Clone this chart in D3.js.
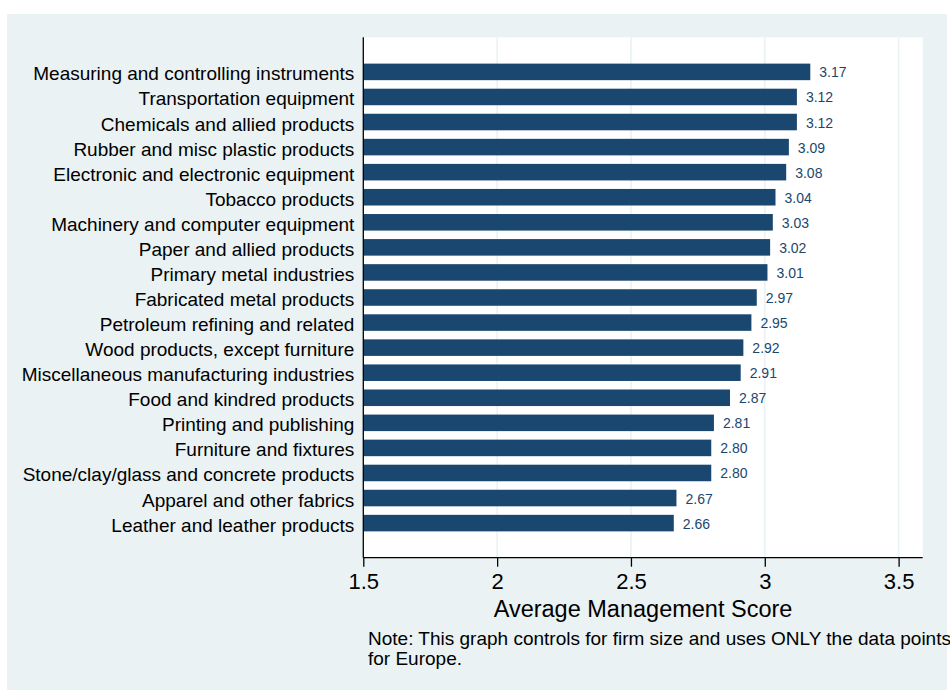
<!DOCTYPE html>
<html>
<head>
<meta charset="utf-8">
<script src="https://cdn.jsdelivr.net/npm/d3@7"></script>
<style>
  body { margin: 0; background: #fff; }
  svg { display: block; font-family: "Liberation Sans", Arial, Helvetica, sans-serif; }
</style>
</head>
<body>
<script>
var width = 950,
    height = 690;

// industries, top to bottom
var industries = [
  "Measuring and controlling instruments",
  "Transportation equipment",
  "Chemicals and allied products",
  "Rubber and misc plastic products",
  "Electronic and electronic equipment",
  "Tobacco products",
  "Machinery and computer equipment",
  "Paper and allied products",
  "Primary metal industries",
  "Fabricated metal products",
  "Petroleum refining and related",
  "Wood products, except furniture",
  "Miscellaneous manufacturing industries",
  "Food and kindred products",
  "Printing and publishing",
  "Furniture and fixtures",
  "Stone/clay/glass and concrete products",
  "Apparel and other fabrics",
  "Leather and leather products"
];

var scores = [3.17, 3.12, 3.12, 3.09, 3.08, 3.04, 3.03, 3.02, 3.01, 2.97,
              2.95, 2.92, 2.91, 2.87, 2.81, 2.80, 2.80, 2.67, 2.66];

var xTicks = [1.5, 2, 2.5, 3, 3.5];
var xTitle = "Average Management Score";
var noteLines = [
  "Note: This graph controls for firm size and uses ONLY the data points",
  "for Europe."
];

var plot = {left: 363.3, right: 922.7, top: 37.3, bottom: 557.7};
var bg = "#eaf2f3",
    barColor = "#1a476f";

var x = d3.scaleLinear()
    .domain([1.5, 3.59])
    .range([plot.left, plot.right]);

var y = d3.scaleBand()
    .domain(industries)
    .range([plot.top, plot.bottom])
    .paddingInner(0.34)
    .paddingOuter(1.05);

var svg = d3.select("body").append("svg")
    .attr("width", width)
    .attr("height", height);

// outer panel
svg.append("rect")
    .attr("x", 7).attr("y", 14)
    .attr("width", 940).attr("height", height - 14)
    .attr("fill", bg);

// plot region
svg.append("rect")
    .attr("x", plot.left).attr("y", plot.top)
    .attr("width", plot.right - plot.left).attr("height", plot.bottom - plot.top)
    .attr("fill", "#fff");

// gridlines
svg.append("g")
  .selectAll("line")
  .data(xTicks.slice(1))
  .join("line")
    .attr("x1", d => x(d)).attr("x2", d => x(d))
    .attr("y1", plot.top).attr("y2", plot.bottom)
    .attr("stroke", bg)
    .attr("stroke-width", 1.6);

// bars
svg.append("g")
  .selectAll("rect")
  .data(scores)
  .join("rect")
    .attr("x", plot.left)
    .attr("y", (d, i) => y(industries[i]))
    .attr("width", d => x(d) - plot.left)
    .attr("height", y.bandwidth())
    .attr("fill", barColor);

// value labels
svg.append("g")
  .selectAll("text")
  .data(scores)
  .join("text")
    .attr("x", d => x(d) + 9)
    .attr("y", (d, i) => y(industries[i]) + y.bandwidth() / 2 + 5.5)
    .attr("font-size", 14)
    .attr("fill", barColor)
    .text(d => d3.format(".2f")(d));

// y axis: category labels, no ticks
var yAxis = d3.axisLeft(y).tickSize(0).tickPadding(9);
var gy = svg.append("g")
    .attr("transform", "translate(" + plot.left + ",0)")
    .call(yAxis);
gy.select(".domain").attr("stroke", "#000").attr("stroke-width", 1.3)
    .attr("d", "M0," + plot.top + "V" + plot.bottom);
gy.selectAll("text")
    .attr("font-size", 19)
    .attr("fill", "#000")
    .attr("dy", null)
    .attr("y", 8.5)
    .attr("font-family", null);

// x axis
var xAxis = d3.axisBottom(x).tickValues(xTicks).tickSize(9).tickPadding(7)
    .tickFormat(d3.format(""));
var gx = svg.append("g")
    .attr("transform", "translate(0," + plot.bottom + ")")
    .call(xAxis);
gx.select(".domain").attr("stroke", "#000").attr("stroke-width", 1.3)
    .attr("d", "M" + plot.left + ",0H" + plot.right);
gx.selectAll(".tick line").attr("stroke", "#000").attr("stroke-width", 1.3);
gx.selectAll("text")
    .attr("font-size", 22)
    .attr("fill", "#000")
    .attr("font-family", null);

// axis title
svg.append("text")
    .attr("x", (plot.left + plot.right) / 2)
    .attr("y", 617)
    .attr("text-anchor", "middle")
    .attr("font-size", 23.5)
    .text(xTitle);

// note
svg.append("g")
  .selectAll("text")
  .data(noteLines)
  .join("text")
    .attr("x", 368)
    .attr("y", (d, i) => 645 + i * 19.5)
    .attr("font-size", 19)
    .text(d => d);
</script>
</body>
</html>
